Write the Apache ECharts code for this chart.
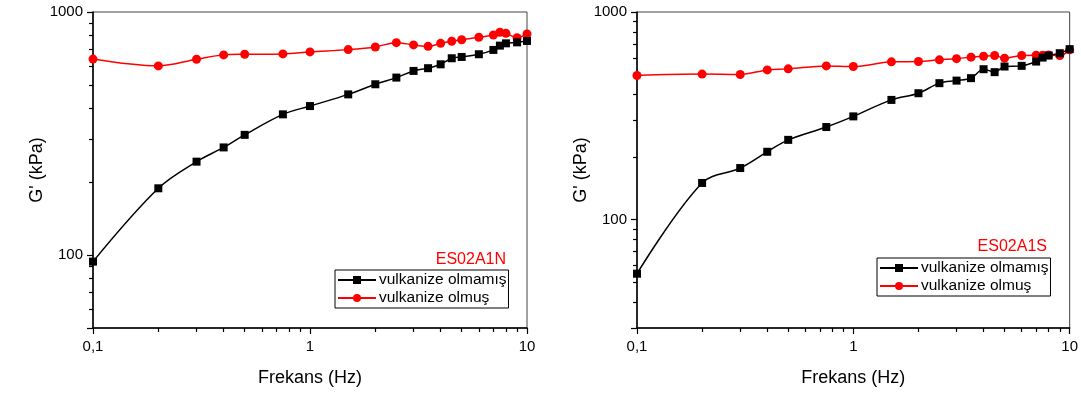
<!DOCTYPE html>
<html>
<head>
<meta charset="utf-8">
<script src="https://cdn.jsdelivr.net/npm/echarts@6/dist/echarts.min.js"></script>
<style>
  html, body { margin: 0; padding: 0; background: #fff; }
  #chart { width: 1081px; height: 397px; }
</style>
</head>
<body>
<div id="chart"></div>
<script>
// frekans noktaları (Hz), iki numune için aynı
var freq = [0.1, 0.2, 0.3, 0.4, 0.5, 0.75, 1, 1.5, 2, 2.5, 3, 3.5, 4, 4.5, 5, 6, 7, 7.5, 8, 9, 10];

// ES02A1N — G' (kPa)
var unvulcN = [93.8, 188, 242, 277, 312, 379, 410, 458, 504, 537, 572, 587, 609, 645, 653, 670, 698, 727, 743, 750, 760];
var vulcN = [640, 600, 639, 666, 670, 672, 685, 700, 718, 748, 732, 722, 743, 758, 769, 787, 804, 825, 817, 784, 812];

// ES02A1S — G' (kPa)
var unvulcS = [54.8, 150, 177, 212, 242, 279, 314, 377, 406, 454, 467, 480, 530, 513, 546, 550, 577, 603, 617, 633, 662];
var vulcS = [494, 502, 500, 526, 532, 550, 546, 575, 577, 588, 596, 606, 612, 617, 599, 617, 619, 619, 621, 617, 657];

var seriesNames = ['vulkanize olmamış', 'vulkanize olmuş'];
var sampleNames = ['ES02A1N', 'ES02A1S'];
var yMins = [50, 30];

var font = 'Liberation Sans, Arial, sans-serif';
var chart = echarts.init(document.getElementById('chart'), null, { renderer: 'canvas' });

function pairs(xs, ys) {
  return xs.map(function(x, i) { return [x, ys[i]]; });
}

function xAxis(idx) {
  return {
    type: 'log', gridIndex: idx, logBase: 10, min: 0.1, max: 10,
    name: 'Frekans (Hz)', nameLocation: 'middle', nameGap: 41,
    nameTextStyle: { color: '#000', fontSize: 18, fontFamily: font },
    axisLine: { lineStyle: { color: '#000', width: 1.5 } },
    axisTick: { inside: false, length: 6, lineStyle: { color: '#000', width: 1.2 } },
    minorTick: { show: true, splitNumber: 9, length: 4, lineStyle: { color: '#000', width: 1.2 } },
    axisLabel: {
      color: '#000', fontSize: 15, fontFamily: font, margin: 11,
      formatter: function(v) { return String(+v.toPrecision(6)).replace('.', ','); }
    },
    splitLine: { show: false }
  };
}

function yAxis(idx) {
  return {
    type: 'log', gridIndex: idx, logBase: 10, min: yMins[idx], max: 1000,
    name: "G' (kPa)", nameLocation: 'middle', nameGap: 46,
    nameTextStyle: { color: '#000', fontSize: 18, fontFamily: font },
    axisLine: { lineStyle: { color: '#000', width: 1.5 } },
    axisTick: { inside: false, length: 6, lineStyle: { color: '#000', width: 1.2 } },
    minorTick: { show: true, splitNumber: 9, length: 4, lineStyle: { color: '#000', width: 1.2 } },
    axisLabel: {
      color: '#000', fontSize: 15, fontFamily: font, margin: 10, showMinLabel: false,
      formatter: function(v) { return String(Math.round(v)); }
    },
    splitLine: { show: false }
  };
}

function lineSeries(idx, name, ys, color, symbol, size) {
  return {
    name: name, type: 'line', xAxisIndex: idx, yAxisIndex: idx,
    data: pairs(freq, ys),
    smooth: 0.35,
    symbol: symbol, symbolSize: size,
    lineStyle: { color: color, width: 1.5 },
    itemStyle: { color: color },
    z: symbol === 'circle' ? 3 : 4
  };
}

function legend(idx, left, top) {
  return {
    data: seriesNames, orient: 'vertical', left: left, top: top,
    itemWidth: 38, itemHeight: 10, itemGap: 2, padding: [2, 2],
    borderColor: '#000', borderWidth: 1, backgroundColor: '#fff',
    textStyle: { color: '#000', fontSize: 15.5, fontFamily: font, padding: [0, 0, 0, -2] },
    selectedMode: false
  };
}

chart.setOption({
  animation: false,
  backgroundColor: '#fff',
  title: [
    { text: sampleNames[0], right: 575, top: 252, padding: 0,
      textStyle: { color: '#ff0000', fontSize: 16, fontWeight: 'normal', fontFamily: font } },
    { text: sampleNames[1], right: 34, top: 239, padding: 0,
      textStyle: { color: '#ff0000', fontSize: 16, fontWeight: 'normal', fontFamily: font } }
  ],
  legend: [legend(0, 335, 270), legend(1, 877, 258)],
  grid: [
    { left: 93, top: 12, width: 434, height: 316, show: true, borderColor: '#444', borderWidth: 1 },
    { left: 637, top: 12, width: 433, height: 316, show: true, borderColor: '#444', borderWidth: 1 }
  ],
  xAxis: [xAxis(0), xAxis(1)],
  yAxis: [yAxis(0), yAxis(1)],
  series: [
    lineSeries(0, seriesNames[0], unvulcN, '#000000', 'rect', 8),
    lineSeries(0, seriesNames[1], vulcN, '#ff0000', 'circle', 9),
    lineSeries(1, seriesNames[0], unvulcS, '#000000', 'rect', 8),
    lineSeries(1, seriesNames[1], vulcS, '#ff0000', 'circle', 9)
  ]
});
window.addEventListener('resize', function() { chart.resize(); });
</script>
</body>
</html>
